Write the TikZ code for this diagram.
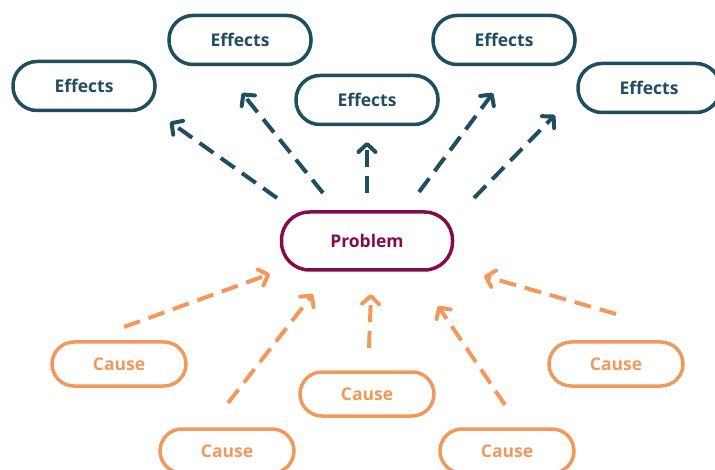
\documentclass[tikz,border=0pt]{standalone}
\usepackage{fontspec}
\setmainfont{Open Sans}
\usepackage{tikz}
\usetikzlibrary{arrows.meta}

\definecolor{effteal}{HTML}{1F4E5F}
\definecolor{probred}{HTML}{850C4C}
\definecolor{causeorange}{HTML}{F2985A}

\tikzset{
    effbox/.style={rectangle, draw=effteal, line width=3.5pt, rounded corners=24pt,
        minimum width=142pt, minimum height=49pt, text=effteal, font=\bfseries\fontsize{17.5}{20}\selectfont},
    probbox/.style={rectangle, draw=probred, line width=3.5pt, rounded corners=28pt,
        minimum width=171pt, minimum height=58pt, text=probred, font=\bfseries\fontsize{17.5}{20}\selectfont},
    causebox/.style={rectangle, draw=causeorange, line width=3.5pt, rounded corners=22pt,
        minimum width=134pt, minimum height=44pt, text=causeorange, font=\bfseries\fontsize{17.5}{20}\selectfont},
    effarrow/.style={effteal, line width=4pt, dash pattern=on 17pt off 9pt,
        -{Straight Barb[length=8pt, width=17pt, line join=round, line cap=round]}},
    causearrow/.style={causeorange, line width=4pt, dash pattern=on 17pt off 9pt,
        -{Straight Barb[length=8pt, width=17pt, line join=round, line cap=round]}}
}

\begin{document}
\begin{tikzpicture}[x=1pt, y=-1pt]
    \useasboundingbox (0,0) rectangle (715,470);

    % Problem in the middle
    \node[probbox] (problem) at (367,241) {Problem};

    % Effects boxes
    \foreach \i/\x/\y in {1/84/86, 2/240/40, 3/367/100, 4/504/40, 5/649/88} {
        \node[effbox] (eff\i) at (\x,\y) {Effects};
    }

    % Cause boxes
    \foreach \i/\x/\y in {1/119/364, 2/227/451, 3/367/394, 4/507/451, 5/616/364} {
        \node[causebox] (cause\i) at (\x,\y) {Cause};
    }

    % arrow ends (effects side)
    \foreach \i/\sx/\sy/\tx/\ty in {1/277/198/170/122, 2/323/193/242/93, 3/367/193/367/142,
                                   4/419/192/493/93, 5/474/198/555/115} {
        \coordinate (efffrom\i) at (\sx,\sy);
        \coordinate (effto\i) at (\tx,\ty);
        \draw[effarrow] (efffrom\i) -- (effto\i);
    }

    % arrow ends (cause side)
    \foreach \i/\sx/\sy/\tx/\ty in {1/124/327/270/274, 2/228/403/313/294, 3/369/348/371/294,
                                   4/505/405/438/306, 5/616/314/484/276} {
        \coordinate (causefrom\i) at (\sx,\sy);
        \coordinate (causeto\i) at (\tx,\ty);
        \draw[causearrow] (causefrom\i) -- (causeto\i);
    }
\end{tikzpicture}
\end{document}
